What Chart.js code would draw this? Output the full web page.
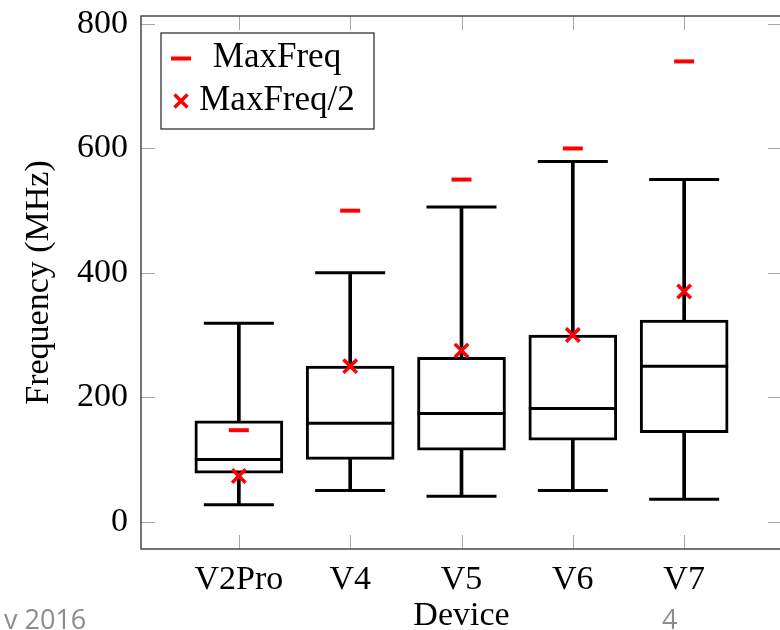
<!DOCTYPE html>
<html><head><meta charset="utf-8">
<script src="https://cdn.jsdelivr.net/npm/chart.js@4.4.0/dist/chart.umd.min.js"></script>
<style>
html,body{margin:0;padding:0;background:#fff;overflow:hidden;width:780px;height:630px;}
#wrap{position:relative;width:780px;height:630px;overflow:hidden;}
canvas{position:absolute;left:0;top:0;}
.foot{position:absolute;font-family:"Open Sans",sans-serif;font-size:27px;color:#8c8c8c;line-height:1;white-space:pre;}
</style></head><body>
<div id="wrap"><canvas id="c" width="800" height="630"></canvas>
<div class="foot" style="left:4px;top:605px">v 2016</div>
<div class="foot" style="left:662px;top:605px">4</div>
</div>
<script>
const categories = ['V2Pro', 'V4', 'V5', 'V6', 'V7'];
const whiskerLow = [27, 50, 41, 50, 36];
const q1 = [78, 100, 115, 131, 143];
const median = [100, 158, 174, 182, 250];
const q3 = [162, 250, 264, 300, 324];
const whiskerHigh = [319, 400, 506, 579, 550];
const maxFreq = [147, 500, 550, 600, 740];
const halfMaxFreq = [73.5, 250, 275, 300, 370];
const yTicks = [0, 200, 400, 600, 800];

const SERIF = '"Liberation Serif", "Times New Roman", serif';
const pts = arr => arr.map((v, i) => ({x: i, y: v}));
const ranges = (a, b) => a.map((v, i) => ({x: i, y: [v, b[i]]}));

const framePlugin = {
  id: 'frame',
  beforeDatasetsDraw(chart) {
    const {ctx, chartArea: {left, right, top, bottom}, scales: {x, y}} = chart;
    ctx.save();
    ctx.strokeStyle = '#a6a6a6'; ctx.lineWidth = 1;
    ctx.beginPath();
    y.ticks.forEach(t => {
      const py = Math.round(y.getPixelForValue(t.value)) + 0.5;
      ctx.moveTo(left, py); ctx.lineTo(left + 14, py);
      ctx.moveTo(right, py); ctx.lineTo(right - 14, py);
    });
    x.ticks.forEach(t => {
      const px = Math.round(x.getPixelForValue(t.value)) + 0.5;
      ctx.moveTo(px, bottom); ctx.lineTo(px, bottom - 14);
      ctx.moveTo(px, top); ctx.lineTo(px, top + 14);
    });
    ctx.stroke();
    ctx.strokeStyle = '#3a3a3a'; ctx.lineWidth = 1.4;
    ctx.strokeRect(left, top, right - left, bottom - top);
    ctx.restore();
  }
};

const legendPlugin = {
  id: 'boxLegend',
  afterDraw(chart) {
    const ctx = chart.ctx;
    ctx.save();
    ctx.fillStyle = '#fff';
    ctx.fillRect(161, 33, 213, 96);
    ctx.strokeStyle = '#222'; ctx.lineWidth = 1.2;
    ctx.strokeRect(161, 33, 213, 96);
    ctx.strokeStyle = '#ff0000'; ctx.lineWidth = 4; ctx.lineCap = 'butt';
    ctx.beginPath(); ctx.moveTo(171, 58.5); ctx.lineTo(191, 58.5); ctx.stroke();
    ctx.lineWidth = 3.5;
    ctx.beginPath();
    ctx.moveTo(174.5, 94.5); ctx.lineTo(187.5, 107.5);
    ctx.moveTo(187.5, 94.5); ctx.lineTo(174.5, 107.5);
    ctx.stroke();
    ctx.fillStyle = '#000';
    ctx.font = '35px ' + SERIF;
    ctx.textAlign = 'center'; ctx.textBaseline = 'alphabetic';
    ctx.fillText('MaxFreq', 277, 67);
    ctx.fillText('MaxFreq/2', 277, 110);
    ctx.restore();
  }
};

new Chart(document.getElementById('c'), {
  type: 'bar',
  data: {
    datasets: [
      {type: 'line', label: 'MaxFreq', data: pts(maxFreq), showLine: false,
       pointStyle: 'line', pointRadius: 10, pointBorderWidth: 4,
       borderColor: '#ff0000', backgroundColor: '#ff0000', order: 0},
      {type: 'line', label: 'MaxFreq/2', data: pts(halfMaxFreq), showLine: false,
       pointStyle: 'crossRot', pointRadius: 9.5, pointBorderWidth: 3.5,
       borderColor: '#ff0000', backgroundColor: '#ff0000', order: 0},
      {type: 'line', label: 'Median', data: pts(median), showLine: false,
       pointStyle: 'line', pointRadius: 44, pointBorderWidth: 3,
       borderColor: '#000', backgroundColor: '#000', order: 1},
      {type: 'line', label: 'Whisker low cap', data: pts(whiskerLow), showLine: false,
       pointStyle: 'line', pointRadius: 35, pointBorderWidth: 3,
       borderColor: '#000', backgroundColor: '#000', order: 1},
      {type: 'line', label: 'Whisker high cap', data: pts(whiskerHigh), showLine: false,
       pointStyle: 'line', pointRadius: 35, pointBorderWidth: 3,
       borderColor: '#000', backgroundColor: '#000', order: 1},
      {type: 'bar', label: 'Box', data: ranges(q1, q3), backgroundColor: '#fff',
       borderColor: '#000', borderWidth: 3, borderSkipped: false,
       barThickness: 88, grouped: false, order: 2},
      {type: 'bar', label: 'Whisker low', data: ranges(whiskerLow, q1), backgroundColor: '#000',
       borderWidth: 0, barThickness: 3, grouped: false, order: 3},
      {type: 'bar', label: 'Whisker high', data: ranges(q3, whiskerHigh), backgroundColor: '#000',
       borderWidth: 0, barThickness: 3, grouped: false, order: 3}
    ]
  },
  options: {
    responsive: false,
    animation: false,
    events: [],
    layout: {autoPadding: false, padding: {left: 0, top: 16, right: 18, bottom: 0}},
    plugins: {legend: {display: false}, tooltip: {enabled: false}},
    scales: {
      x: {
        type: 'linear', min: -0.879, max: 4.879, offset: false,
        afterBuildTicks: s => { s.ticks = categories.map((c, i) => ({value: i})); },
        afterFit: s => { s.height = 81; },
        ticks: {callback: v => categories[Math.round(v)], color: '#000',
                font: {family: SERIF, size: 34}, padding: 11,
                maxRotation: 0, autoSkip: false},
        grid: {display: false, drawTicks: false, offset: false},
        border: {display: false},
        title: {display: true, text: 'Device', color: '#000',
                font: {family: SERIF, size: 34, lineHeight: 1}, padding: {top: 0, bottom: -3}}
      },
      y: {
        min: -44, max: 813,
        afterBuildTicks: s => { s.ticks = yTicks.map(v => ({value: v})); },
        afterFit: s => { s.width = 141; },
        ticks: {color: '#000', font: {family: SERIF, size: 34, lineHeight: 0.1}, padding: 13},
        grid: {display: false, drawTicks: false},
        border: {display: false},
        title: {display: true, text: 'Frequency (MHz)', color: '#000',
                font: {family: SERIF, size: 34, lineHeight: 1}, padding: {top: 22, bottom: 0}}
      }
    }
  },
  plugins: [framePlugin, legendPlugin]
});
</script>
</body></html>
